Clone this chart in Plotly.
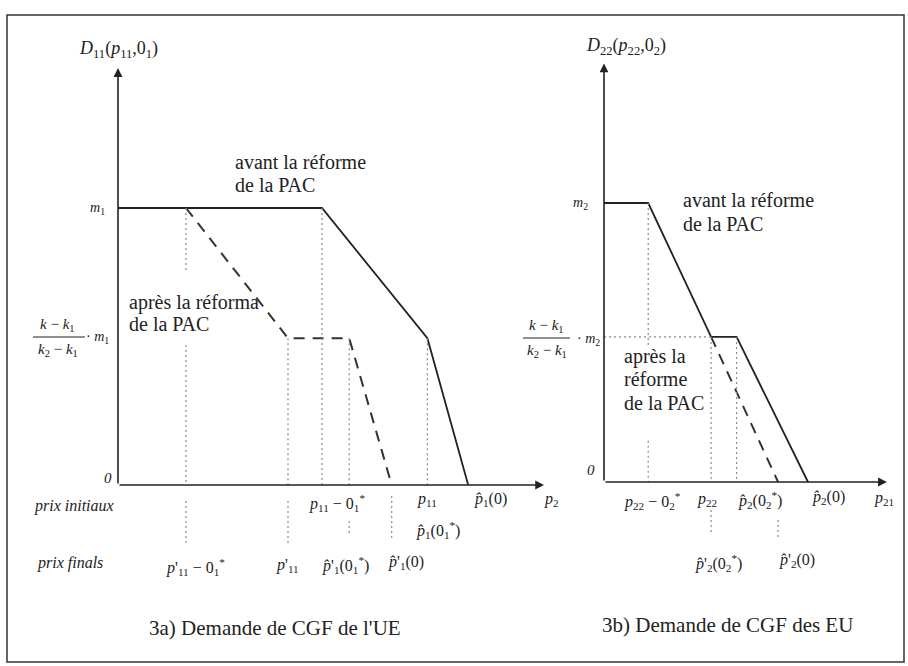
import plotly.graph_objects as go

W, H = 908, 666
FONT = "Liberation Serif, Times New Roman, serif"
INK = "#222222"

# ---------------- data (abstract price / quantity units) ----------------
# Panel 3a : EU demand, m1 = 1
a_before_x = [0.0, 6.0, 9.1, 10.3]
a_before_y = [1.0, 1.0, 0.53, 0.0]
a_after_x = [2.0, 5.0, 6.8, 8.05]
a_after_y = [1.0, 0.53, 0.53, 0.0]
# dotted guides: (x, y_from, y_to)
a_guides = [(2.0, 1.0, 0.77), (2.0, 0.505, 0.0), (2.0, -0.058, -0.209),
            (5.0, 0.53, 0.0), (5.0, -0.058, -0.209),
            (6.0, 1.0, 0.0),
            (6.8, 0.53, 0.0), (6.8, -0.13, -0.184),
            (8.05, -0.04, -0.2),
            (9.1, 0.53, 0.0)]
a_axis_end = (12.53, 1.505)

# Panel 3b : US demand, m2 = 1
b_before_x = [0.0, 1.3, 3.15, 3.9, 6.0]
b_before_y = [1.0, 1.0, 0.52, 0.52, 0.0]
b_after_x = [3.15, 5.12]
b_after_y = [0.52, 0.0]
b_guides = [(1.3, 1.0, 0.49), (1.3, 0.148, 0.0),
            (3.15, 0.52, 0.0), (3.15, -0.1, -0.19),
            (3.9, 0.52, 0.0),
            (5.12, -0.136, -0.2)]
b_hguide = (0.0, 3.15, 0.52)
b_axis_end = (8.32, 1.50)

# ---------------- axes placement (pixel anchors) ----------------
SX = 34.0
A_ORIG, A_SY = (118, 485), 277.0
B_ORIG, B_SY = (604, 482), 279.0
SPLIT = 0.63

def P(px, py):
    return px / W, 1 - py / H

fig = go.Figure()

def line(x, y, xa, ya, **kw):
    fig.add_trace(go.Scatter(x=x, y=y, mode="lines", xaxis=xa, yaxis=ya,
                             hoverinfo="skip", showlegend=False, **kw))

solid = dict(color=INK, width=1.8)
dashed = dict(color="#333333", width=2, dash="11px,8px")
dotted = dict(color="#8a8a8a", width=1.2, dash="2px,3px")

line(a_before_x, a_before_y, "x", "y", line=solid)
line(a_after_x, a_after_y, "x", "y", line=dashed)
for gx, g0, g1 in a_guides:
    line([gx, gx], [g0, g1], "x", "y", line=dotted)

line(b_before_x, b_before_y, "x2", "y2", line=solid)
line(b_after_x, b_after_y, "x2", "y2", line=dashed)
for gx, g0, g1 in b_guides:
    line([gx, gx], [g0, g1], "x2", "y2", line=dotted)
line([b_hguide[0], b_hguide[1]], [b_hguide[2], b_hguide[2]], "x2", "y2", line=dotted)

ax_common = dict(visible=False, fixedrange=True)
fig.update_layout(
    width=W, height=H, margin=dict(l=0, r=0, t=0, b=0),
    paper_bgcolor="white", plot_bgcolor="white",
    xaxis=dict(domain=[0, SPLIT], range=[-A_ORIG[0] / SX, (SPLIT * W - A_ORIG[0]) / SX], **ax_common),
    yaxis=dict(domain=[0, 1], range=[-(H - A_ORIG[1]) / A_SY, A_ORIG[1] / A_SY], **ax_common),
    xaxis2=dict(domain=[SPLIT, 1], range=[(SPLIT * W - B_ORIG[0]) / SX, (W - B_ORIG[0]) / SX], **ax_common),
    yaxis2=dict(domain=[0, 1], range=[-(H - B_ORIG[1]) / B_SY, B_ORIG[1] / B_SY], anchor="x2", **ax_common),
    showlegend=False,
)

# axes with arrows
arrows = [("x", "y", a_axis_end[0], 0), ("x", "y", 0, a_axis_end[1]),
          ("x2", "y2", b_axis_end[0], 0), ("x2", "y2", 0, b_axis_end[1])]
for xr, yr, hx, hy in arrows:
    fig.add_annotation(x=hx, y=hy, ax=0, ay=0, xref=xr, yref=yr, axref=xr, ayref=yr,
                       text="", showarrow=True, arrowhead=2, arrowsize=1.1,
                       arrowwidth=1.6, arrowcolor=INK)

# outer frame and fraction bars
x0, y0 = P(7, 15)
x1, y1 = P(904, 662)
fig.add_shape(type="rect", xref="paper", yref="paper", x0=x0, y0=y1, x1=x1, y1=y0,
              line=dict(color="#333333", width=1.5))
for fx0, fx1, fy in [(33, 85, 337), (523, 570, 338)]:
    a, b = P(fx0, fy)
    c, _ = P(fx1, fy)
    fig.add_shape(type="line", xref="paper", yref="paper", x0=a, y0=b, x1=c, y1=b,
                  line=dict(color=INK, width=1))

def txt(px, py, s, size=16, anchor="center"):
    x, y = P(px, py)
    fig.add_annotation(x=x, y=y, xref="paper", yref="paper", text=s, showarrow=False,
                       xanchor=anchor, yanchor="middle",
                       font=dict(family=FONT, size=size, color=INK))

hat = "p\u0302"
# ---- panel a texts
txt(119, 50, "<i>D</i><sub>11</sub>(<i>p</i><sub>11</sub>,0<sub>1</sub>)", 18)
txt(97, 208, "<i>m</i><sub>1</sub>", 14)
txt(108, 478, "<i>0</i>", 15)
txt(57, 325, "<i>k</i> − <i>k</i><sub>1</sub>", 15)
txt(58, 350, "<i>k</i><sub>2</sub> − <i>k</i><sub>1</sub>", 15)
txt(97, 337, "· <i>m</i><sub>1</sub>", 14)
txt(233, 162, "avant la réforme", 20, "left")
txt(233, 185, "de la PAC", 20, "left")
txt(127, 302, "après la réforma", 20, "left")
txt(127, 324, "de la PAC", 20, "left")
txt(74, 506, "<i>prix initiaux</i>", 16)
txt(70, 563, "<i>prix finals</i>", 16)
txt(337, 503, "<i>p</i><sub>11</sub> − 0<sub>1</sub><sup>*</sup>", 16)
txt(427, 500, "<i>p</i><sub>11</sub>", 16)
txt(438, 530, f"<i>{hat}</i><sub>1</sub>(0<sub>1</sub><sup>*</sup>)", 16)
txt(490, 500, f"<i>{hat}</i><sub>1</sub>(0)", 16)
txt(551, 500, "<i>p</i><sub>2</sub>", 16)
txt(195, 567, "<i>p</i>'<sub>11</sub> − 0<sub>1</sub><sup>*</sup>", 16)
txt(287, 565, "<i>p</i>'<sub>11</sub>", 16)
txt(345, 565, f"<i>{hat}</i>'<sub>1</sub>(0<sub>1</sub><sup>*</sup>)", 16)
txt(406, 562, f"<i>{hat}</i>'<sub>1</sub>(0)", 16)
txt(275, 628, "3a) Demande de CGF de l'UE", 21)

# ---- panel b texts
txt(626, 46, "<i>D</i><sub>22</sub>(<i>p</i><sub>22</sub>,0<sub>2</sub>)", 18)
txt(580, 203, "<i>m</i><sub>2</sub>", 14)
txt(591, 470, "<i>0</i>", 15)
txt(546, 326, "<i>k</i> − <i>k</i><sub>1</sub>", 15)
txt(547, 351, "<i>k</i><sub>2</sub> − <i>k</i><sub>1</sub>", 15)
txt(588, 339, "· <i>m</i><sub>2</sub>", 14)
txt(681, 200, "avant la réforme", 20, "left")
txt(681, 224, "de la PAC", 20, "left")
txt(622, 356, "après la", 20, "left")
txt(622, 379, "réforme", 20, "left")
txt(622, 403, "de la PAC", 20, "left")
txt(652, 501, "<i>p</i><sub>22</sub> − 0<sub>2</sub><sup>*</sup>", 16)
txt(707, 499, "<i>p</i><sub>22</sub>", 16)
txt(760, 500, f"<i>{hat}</i><sub>2</sub>(0<sub>2</sub><sup>*</sup>)", 16)
txt(828, 497, f"<i>{hat}</i><sub>2</sub>(0)", 16)
txt(884, 498, "<i>p</i><sub>21</sub>", 16)
txt(718, 563, f"<i>{hat}</i>'<sub>2</sub>(0<sub>2</sub><sup>*</sup>)", 16)
txt(797, 560, f"<i>{hat}</i>'<sub>2</sub>(0)", 16)
txt(727, 625, "3b) Demande de CGF des EU", 21)

fig.write_html("out.html",
               config={"displayModeBar": False, "staticPlot": True},
               post_script="document.body.style.margin='0';document.body.style.overflow='hidden';")
